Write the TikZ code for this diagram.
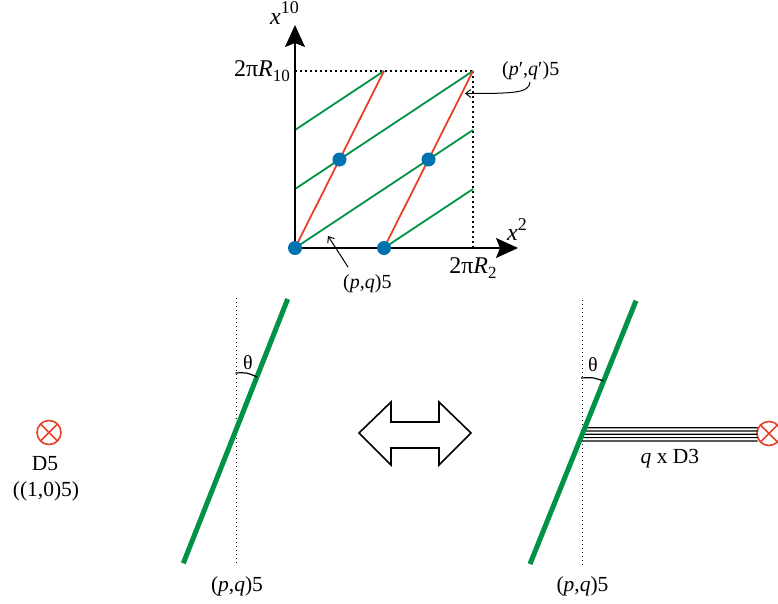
\documentclass[tikz,border=0pt]{standalone}
\usepackage{fontspec}
\setmainfont{Liberation Serif}
\usetikzlibrary{arrows.meta}
\definecolor{myred}{RGB}{232,65,40}
\definecolor{mygreen}{RGB}{0,146,69}
\definecolor{myblue}{RGB}{0,114,176}
\newcommand\mysup[1]{\raisebox{0.42em}{\fontsize{18}{18}\selectfont #1}}
\newcommand\mysub[1]{\raisebox{-0.22em}{\fontsize{17}{17}\selectfont #1}}
\tikzset{
  big/.style={font=\fontsize{24}{28}\selectfont, inner sep=0pt},
  lab/.style={font=\fontsize{21.5}{25}\selectfont, inner sep=0pt},
  small/.style={font=\fontsize{20}{24}\selectfont, inner sep=0pt},
  axis/.style={line width=1.7pt, -{Stealth[length=22pt,width=20pt,inset=4pt]}},
  boxdot/.style={line width=1.8pt, dash pattern=on 1.8pt off 3.2pt},
  vdot/.style={line width=1.4pt, dash pattern=on 1.4pt off 2.6pt},
  thingreen/.style={mygreen, line width=1.8pt},
  thinred/.style={myred, line width=1.8pt},
  brane/.style={mygreen, line width=5pt},
  bluedot/.style={circle, fill=myblue, minimum size=14pt, inner sep=0pt},
  pointer/.style={line width=1pt, -{Straight Barb[length=5pt,width=8pt]}},
  dthree/.style={line width=1.2pt},
  anglearc/.style={line width=1.2pt},
  dfive/.style={circle, draw=myred, line width=1.6pt, minimum size=24pt, inner sep=0pt,
    path picture={\draw[myred,line width=1.6pt]
      (path picture bounding box.north west) -- (path picture bounding box.south east)
      (path picture bounding box.south west) -- (path picture bounding box.north east);}},
  dblarrow/.style={draw=black, line width=1.6pt, fill=white, line join=miter}
}
\begin{document}
\begin{tikzpicture}[x=1pt,y=-1pt]
\useasboundingbox (0,0) rectangle (778,603);

% ---------- top torus diagram ----------
\coordinate (O) at (295,248);
\coordinate (Ytip) at (295,25);
\coordinate (Xtip) at (518,248);
\coordinate (TL) at (295,71);
\coordinate (TR) at (473,71);
\coordinate (BR) at (473,248);
\coordinate (B2) at (384,248);
\coordinate (T2) at (384,71);
\coordinate (L1) at (295,189);
\coordinate (L2) at (295,130);
\coordinate (R1) at (473,130);
\coordinate (R2) at (473,189);

\draw[boxdot] (TL) -- (TR);
\draw[boxdot] (TR) -- (BR);

\draw[thingreen] (O) -- (R1);
\draw[thingreen] (L1) -- (TR);
\draw[thingreen] (L2) -- (T2);
\draw[thingreen] (B2) -- (R2);

\draw[thinred] (O) -- (T2);
\draw[thinred] (B2) -- (TR);

\draw[axis] (O) -- (Ytip);
\draw[axis] (O) -- (Xtip);

\node[bluedot] (d1) at (O) {};
\node[bluedot] (d2) at (B2) {};
\node[bluedot] (d3) at (339.5,159.5) {};
\node[bluedot] (d4) at (428.5,159.5) {};

\node[big, anchor=base west] (x10) at (270,24) {\textit{x}\mysup{10}};
\node[big, anchor=base east] (R10) at (290,76) {2π\textit{R}\mysub{10}};
\node[big, anchor=base west] (x2) at (507,240.5) {\textit{x}\mysup{2}};
\node[big, anchor=base] (R2lab) at (473,273) {2π\textit{R}\mysub{2}};

\node[small, anchor=base west] (pqp) at (502,75) {(\textit{p}′,\textit{q}′)5};
\node[small, anchor=base west] (pqtop) at (343,288) {(\textit{p},\textit{q})5};

\coordinate (pqpstart) at (530,82);
\coordinate (pqpend) at (465,93.5);
\draw[pointer] (pqpstart) .. controls (529,93) and (515,93.5) .. (pqpend);
\coordinate (pqstart) at (348,267);
\coordinate (pqend) at (328,236);
\draw[pointer] (pqstart) -- (pqend);

% ---------- bottom left ----------
\coordinate (V1a) at (236.7,298);
\coordinate (V1b) at (236.7,565);
\coordinate (G1a) at (287.7,299);
\coordinate (G1b) at (183.3,563.3);
\draw[vdot] (V1a) -- (V1b);
\draw[brane] (G1a) -- (G1b);
\coordinate (A1s) at (235.5,373);
\coordinate (A1e) at (257,377);
\draw[anglearc] (A1s) .. controls (247,372.5) .. (A1e);
\node[small, anchor=center] (th1) at (248,363) {θ};
\node[lab, anchor=base] (pq1) at (237,591) {(\textit{p},\textit{q})5};

\node[dfive] (d5) at (49,432.5) {};
\node[lab, anchor=base] (d5lab) at (45,470.7) {D5};
\node[lab, anchor=base] (d5lab2) at (46,496) {((1,0)5)};

% ---------- double arrow ----------
\draw[dblarrow] (359,433) -- (391,402) -- (391,422) -- (439,422) -- (439,402)
  -- (471,433) -- (439,465) -- (439,448) -- (391,448) -- (391,465) -- cycle;

% ---------- bottom right ----------
\coordinate (V2a) at (582.3,300);
\coordinate (V2b) at (582.3,565);
\coordinate (G2a) at (636,300.7);
\coordinate (G2b) at (530,564);
\draw[vdot] (V2a) -- (V2b);

\node[dfive] (d5r) at (769,433.5) {};
\foreach \y [count=\i] in {427.7,431,434.3,437.6,440.9} {
  \coordinate (h\i a) at (500,\y);
  \coordinate (h\i b) at (800,\y);
  \coordinate (s\i) at (757.5,\y);
  \draw[dthree] (intersection of G2a--G2b and h\i a--h\i b) -- (s\i);
}
\draw[brane] (G2a) -- (G2b);
\coordinate (A2s) at (581,378);
\coordinate (A2e) at (603.5,381);
\draw[anglearc] (A2s) .. controls (593,377.3) .. (A2e);
\node[small, anchor=center] (th2) at (593,365) {θ};
\node[lab, anchor=base] (pq2) at (582.5,591) {(\textit{p},\textit{q})5};
\node[lab, anchor=base] (d3lab) at (670,463.3) {\textit{q} x D3};
\end{tikzpicture}
\end{document}
